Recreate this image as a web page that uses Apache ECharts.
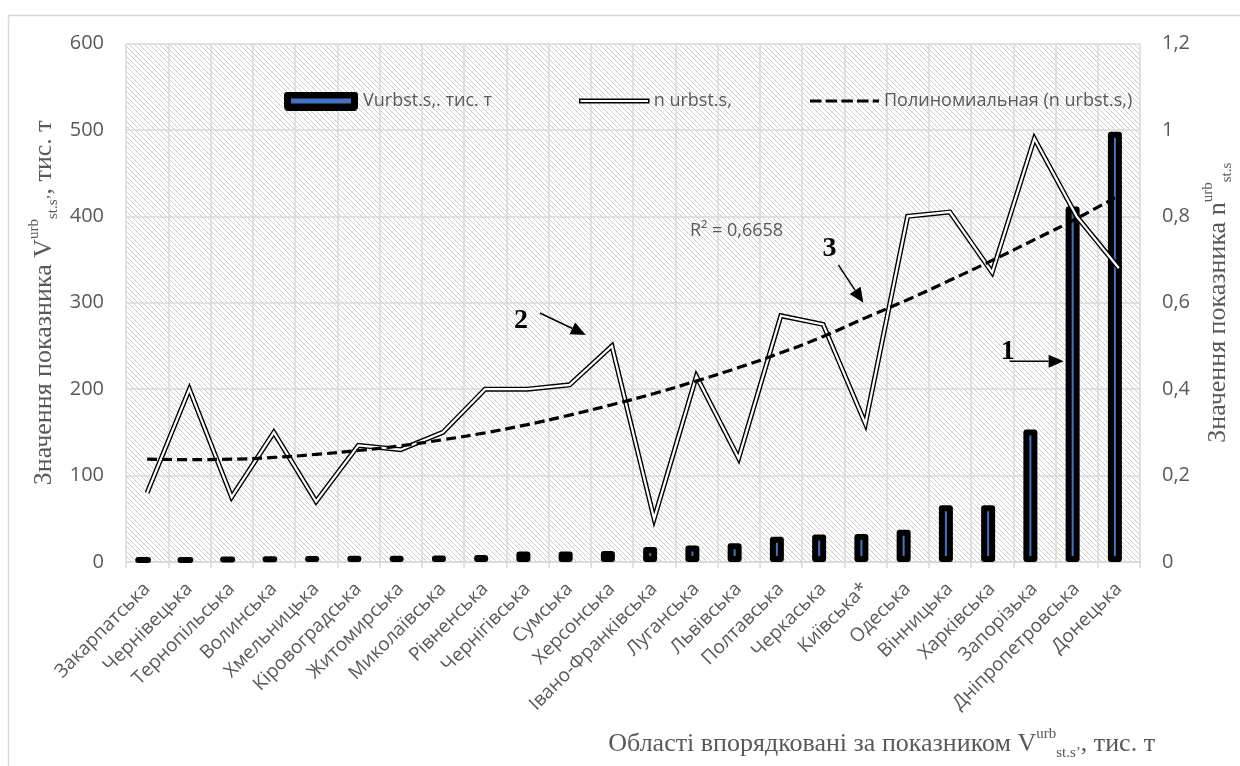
<!DOCTYPE html>
<html>
<head>
<meta charset="utf-8">
<script src="https://cdn.jsdelivr.net/npm/echarts@6/dist/echarts.min.js"></script>
<style>
  html, body { margin: 0; padding: 0; background: #fff; }
  #chart { width: 1240px; height: 766px; }
</style>
</head>
<body>
<div id="chart"></div>
<script>
// Regions ordered by the volume indicator
const regions = [
  'Закарпатська', 'Чернівецька', 'Тернопільська', 'Волинська', 'Хмельницька',
  'Кіровоградська', 'Житомирська', 'Миколаївська', 'Рівненська', 'Чернігівська',
  'Сумська', 'Херсонська', 'Івано-Франківська', 'Луганська', 'Львівська',
  'Полтавська', 'Черкаська', 'Київська*', 'Одеська', 'Вінницька',
  'Харківська', 'Запорізька', 'Дніпропетровська', 'Донецька'
];

// Volume, thousand tonnes (left axis)
const volume = [
  4.9, 4.9, 5.7, 6.1, 6.8, 7.2, 7.2, 7.6, 8.0, 12.2,
  12.2, 12.7, 17.3, 19.0, 21.7, 29.3, 31.9, 32.3, 37.3, 65.8,
  65.8, 153.2, 411.5, 497.8
];

// Indicator n (right axis)
const ratio = [
  0.16, 0.40, 0.15, 0.30, 0.14, 0.27, 0.26, 0.30, 0.40, 0.40,
  0.41, 0.50, 0.10, 0.43, 0.24, 0.57, 0.55, 0.32, 0.80, 0.81,
  0.67, 0.98, 0.80, 0.68
];

// Polynomial trend of n (right axis)
const trend = [
  0.238, 0.237, 0.238, 0.242, 0.249, 0.258, 0.269, 0.283, 0.299, 0.318,
  0.340, 0.364, 0.390, 0.419, 0.450, 0.484, 0.522, 0.565, 0.607, 0.652,
  0.698, 0.746, 0.795, 0.848
];

// Axis scales
const leftMin = 0, leftMax = 600, leftStep = 100;
const rightMin = 0, rightMax = 1.2, rightStep = 0.2;

const barName = 'Vurbst.s,. тис. т';
const lineName = 'n urbst.s,';
const trendName = 'Полиномиальная (n urbst.s,)';
const r2Text = 'R² = 0,6658';
const leftTitle = '{b|Значення показника V}{sup|urb}{sub|st.s’}{b|, тис. т}';
const rightTitle = '{b|Значення показника n}{sup|urb}{sub|st.s}';
const bottomTitle = '{b|Області впорядковані за показником V}{sup|urb}{sub|st.s’}{b|, тис. т}';

const SANS = '"Open Sans", "Noto Sans", sans-serif';
const SERIF = '"Liberation Serif", "DejaVu Serif", serif';
const GREY = '#595959';
const GRID = '#d9d9d9';

// Serif titles with super/subscripts
const titleRich = {
  b:   { fontFamily: SERIF, fontWeight: 'normal', fontSize: 26, fill: GREY, color: GREY, lineHeight: 34, verticalAlign: 'middle' },
  sup: { fontFamily: SERIF, fontWeight: 'normal', fontSize: 15, fill: GREY, color: GREY, lineHeight: 15, verticalAlign: 'top' },
  sub: { fontFamily: SERIF, fontWeight: 'normal', fontSize: 15, fill: GREY, color: GREY, lineHeight: 15, verticalAlign: 'bottom' }
};
const titleStyle = { fontFamily: SERIF, fontWeight: 'normal', fontSize: 26, color: GREY, rich: titleRich };

// Diagonal hatch used as the plot background
function hatchTile() {
  const n = 5;
  const c = document.createElement('canvas');
  c.width = n; c.height = n;
  const g = c.getContext('2d');
  g.fillStyle = '#ffffff';
  g.fillRect(0, 0, n, n);
  g.strokeStyle = '#cccccc';
  g.lineWidth = 1;
  for (const o of [-n, 0, n]) {
    g.beginPath();
    g.moveTo(o, 0);
    g.lineTo(o + n, n);
    g.stroke();
  }
  return c;
}

// Legend swatch for the bars: thick black outline around a blue core
function barSwatch() {
  const w = 74, h = 19;
  const c = document.createElement('canvas');
  c.width = w; c.height = h;
  const g = c.getContext('2d');
  g.fillStyle = '#000';
  const r = 4;
  g.beginPath();
  g.moveTo(r, 0); g.lineTo(w - r, 0); g.quadraticCurveTo(w, 0, w, r);
  g.lineTo(w, h - r); g.quadraticCurveTo(w, h, w - r, h);
  g.lineTo(r, h); g.quadraticCurveTo(0, h, 0, h - r);
  g.lineTo(0, r); g.quadraticCurveTo(0, 0, r, 0);
  g.fill();
  g.fillStyle = '#4472C4';
  g.fillRect(7, 7, w - 14, h - 14);
  return 'image://' + c.toDataURL();
}

const chart = echarts.init(document.getElementById('chart'), null, { renderer: 'canvas' });

const legendText = { fontFamily: SANS, fontSize: 18, color: GREY, lineHeight: 22 };

const option = {
  animation: false,
  backgroundColor: '#ffffff',
  grid: {
    left: 126, right: 100, top: 43.5, bottom: 204,
    show: true,
    backgroundColor: { image: hatchTile(), repeat: 'repeat' },
    borderWidth: 0
  },
  title: {
    text: bottomTitle,
    right: 85, top: 727, padding: 0,
    textStyle: titleStyle
  },
  legend: [
    {
      data: [{ name: barName, icon: barSwatch() }],
      left: 284, top: 90, padding: 0, itemWidth: 74, itemHeight: 19,
      textStyle: legendText
    },
    {
      data: [{ name: lineName, icon: 'rect',
               itemStyle: { color: '#fff', borderColor: '#000', borderWidth: 1.5 } }],
      left: 579, top: 90, padding: 0, itemWidth: 69, itemHeight: 3.5,
      textStyle: legendText
    },
    {
      data: [{ name: trendName,
               icon: 'path://M0,0h11v3h-11zM15,0h11v3h-11zM30,0h11v3h-11zM45,0h11v3h-11zM60,0h6v3h-6z',
               itemStyle: { color: '#000', borderWidth: 0 } }],
      left: 810, top: 90, padding: 0, itemWidth: 69, itemHeight: 3.2,
      textStyle: legendText
    }
  ],
  xAxis: {
    type: 'category',
    data: regions,
    boundaryGap: true,
    axisLine: { lineStyle: { color: GRID, width: 1.5 } },
    axisTick: { show: true, interval: 0, length: 6, lineStyle: { color: GRID, width: 1.5 } },
    splitLine: { show: true, interval: 0, lineStyle: { color: GRID, width: 1.5 } },
    axisLabel: {
      interval: 0, rotate: 45, margin: 24,
      fontFamily: SANS, fontSize: 19, color: GREY
    }
  },
  yAxis: [
    {
      type: 'value', position: 'left',
      min: leftMin, max: leftMax, interval: leftStep,
      axisLine: { show: false }, axisTick: { show: false },
      splitLine: { lineStyle: { color: GRID, width: 1.5 } },
      axisLabel: { fontFamily: SANS, fontSize: 20, color: GREY, margin: 22 }
    },
    {
      type: 'value', position: 'right',
      min: rightMin, max: rightMax, interval: rightStep,
      axisLine: { show: false }, axisTick: { show: false },
      splitLine: { show: false },
      axisLabel: {
        fontFamily: SANS, fontSize: 20, color: GREY, margin: 22,
        formatter: v => String(+v.toFixed(1)).replace('.', ',')
      }
    }
  ],
  series: [
    {
      name: barName, type: 'bar', yAxisIndex: 0, data: volume,
      barWidth: 14, barGap: '-43%',
      itemStyle: { color: '#4472C4', borderColor: '#000', borderWidth: 6, borderJoin: 'round' }
    },
    {
      name: 'spacer', type: 'bar', yAxisIndex: 0, data: [],
      barWidth: 14, silent: true
    },
    {
      name: lineName, type: 'line', yAxisIndex: 1, data: ratio,
      showSymbol: false, symbol: 'none',
      lineStyle: { color: '#000', width: 5, join: 'miter', miterLimit: 10 }
    },
    {
      name: 'n-inner', type: 'line', yAxisIndex: 1, data: ratio,
      showSymbol: false, symbol: 'none', silent: true,
      lineStyle: { color: '#fff', width: 2.2, join: 'miter', miterLimit: 10 }
    },
    {
      name: trendName, type: 'line', yAxisIndex: 1, data: trend,
      showSymbol: false, symbol: 'none', smooth: true,
      lineStyle: { color: '#000', width: 3.2, type: [10, 5], cap: 'butt' }
    }
  ]
};

chart.setOption(option);

// Numbered callouts with arrows, anchored to points of the series
function arrow(x1, y1, x2, y2) {
  const a = Math.atan2(y2 - y1, x2 - x1), L = 15, W = 6.5;
  const bx = x2 - L * Math.cos(a), by = y2 - L * Math.sin(a);
  const px = -Math.sin(a) * W, py = Math.cos(a) * W;
  return [
    { type: 'line', shape: { x1: x1, y1: y1, x2: bx, y2: by },
      style: { stroke: '#000', lineWidth: 1.5 }, z: 100 },
    { type: 'polygon', shape: { points: [[x2, y2], [bx + px, by + py], [bx - px, by - py]] },
      style: { fill: '#000' }, z: 100 }
  ];
}
function callout(label, anchor, textOff, tailOff, tipOff) {
  const [ax, ay] = anchor;
  return [
    { type: 'text', x: ax + textOff[0], y: ay + textOff[1], z: 100,
      style: { text: label, font: 'bold 28px ' + SERIF, fill: '#000',
               align: 'center', verticalAlign: 'middle' } }
  ].concat(arrow(ax + tailOff[0], ay + tailOff[1], ax + tipOff[0], ay + tipOff[1]));
}

// Vertical axis titles, rotated to read bottom-to-top and centred on the plot height
const rect = chart.getModel().getComponent('grid').coordinateSystem.getRect();
const midY = rect.y + rect.height / 2;
function axisTitle(text, x) {
  return {
    type: 'text', x: x, y: midY, rotation: Math.PI / 2, z: 50,
    style: { text: text, rich: titleRich, fontFamily: SERIF, fontSize: 26, fill: GREY,
             align: 'center', verticalAlign: 'middle' }
  };
}

const pBar = chart.convertToPixel({ xAxisIndex: 0, yAxisIndex: 0 }, [regions[22], 230]);
const pLine = chart.convertToPixel({ xAxisIndex: 0, yAxisIndex: 1 }, [regions[11], ratio[11]]);
const pTrend = chart.convertToPixel({ xAxisIndex: 0, yAxisIndex: 1 }, [regions[17], trend[17]]);

const elements = [
  { type: 'rect', shape: { x: 8.5, y: 15.5, width: 1300, height: 800 },
    style: { fill: 'none', stroke: GRID, lineWidth: 1.5 }, silent: true },
  { type: 'text', left: 690, top: 222, z: 100,
    style: { text: r2Text, font: '18px ' + SANS, fill: GREY } },
  axisTitle(leftTitle, rect.x - 82),
  axisTitle(rightTitle, rect.x + rect.width + 78)
]
  .concat(callout('1', pBar, [-69, -11], [-67, -2], [-13, -2]))
  .concat(callout('2', pLine, [-91, -25], [-72, -33], [-26, -11]))
  .concat(callout('3', pTrend, [-36, -69], [-27, -53], [-2, -15]));

chart.setOption({ graphic: { elements: elements } });
</script>
</body>
</html>
